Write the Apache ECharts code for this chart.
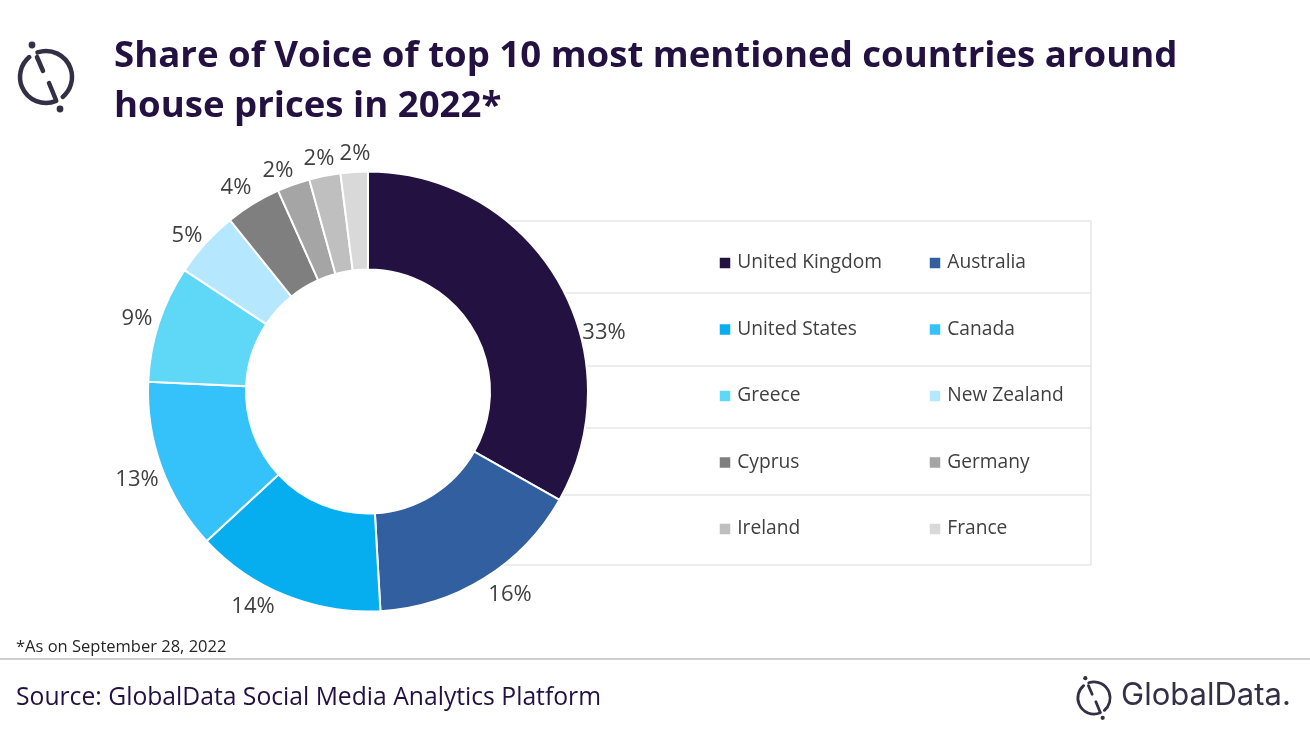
<!DOCTYPE html>
<html>
<head>
<meta charset="utf-8">
<title>Share of Voice</title>
<script src="https://cdn.jsdelivr.net/npm/echarts@6/dist/echarts.min.js"></script>
<style>
  html, body { margin: 0; padding: 0; background: #fff; }
  #chart { width: 1310px; height: 737px; }
</style>
</head>
<body>
<div id="chart"></div>
<script>
const countries = ['United Kingdom', 'Australia', 'United States', 'Canada', 'Greece', 'New Zealand', 'Cyprus', 'Germany', 'Ireland', 'France'];
const shares = [33.2, 15.9, 14, 12.6, 8.6, 4.9, 4.1, 2.4, 2.3, 2];
const colors = ['#231142', '#315f9f', '#06aeef', '#35c2fb', '#5fd8f7', '#b5e8ff', '#7f7f7f', '#a5a5a5', '#bfbfbf', '#d9d9d9'];
// where each percent label sits
const labelSpots = [[604, 333], [510, 595], [253, 607], [137, 480], [137, 319], [187, 236], [236, 188], [278, 171], [319, 159], [355, 154]];
const tableRows = [221, 293, 366, 428, 495, 565];

const FONT = '"Open Sans", sans-serif';
const INK = '#231142';
const LOGO = '#332f45';

// circle logo, used top left and bottom right
function logo(cx, cy, s) {
    const line = (x1, y1, x2, y2) => ({
        type: 'line',
        shape: { x1: cx + x1 * s, y1: cy + y1 * s, x2: cx + x2 * s, y2: cy + y2 * s },
        style: { stroke: LOGO, lineWidth: 4.5 * s, lineCap: 'round' }
    });
    const arc = (a, b) => ({
        type: 'arc',
        shape: { cx: cx, cy: cy, r: 26 * s, startAngle: a * Math.PI / 180, endAngle: b * Math.PI / 180 },
        style: { stroke: LOGO, fill: 'none', lineWidth: 4.5 * s, lineCap: 'round' }
    });
    const dot = (x, y) => ({
        type: 'circle',
        shape: { cx: cx + x * s, cy: cy + y * s, r: 3.4 * s },
        style: { fill: LOGO }
    });
    return [
        arc(-109, 50), arc(67, 230),
        line(-9, -20, -3, -6), line(3, 6, 10, 23),
        dot(-14, -32), dot(14, 32)
    ];
}

// the legend draws its square at 80% of itemHeight
function legendColumn(left, names) {
    return {
        left: left, top: 253, padding: 0, orient: 'vertical', icon: 'rect',
        itemWidth: 12.5, itemHeight: 12.5, itemGap: 46.5,
        data: names,
        textStyle: { fontFamily: FONT, fontSize: 19.2, lineHeight: 20, color: '#404040', padding: [0, 0, 0, 1] }
    };
}

const chart = echarts.init(document.getElementById('chart'));
chart.setOption({
    animation: false,
    backgroundColor: '#fff',
    legend: [
        legendColumn(717.75, countries.filter((c, i) => i % 2 === 0)),
        legendColumn(927.75, countries.filter((c, i) => i % 2 === 1))
    ],
    series: [{
        type: 'pie',
        center: [368, 391.5],
        radius: [122, 220],
        startAngle: 90,
        clockwise: true,
        z: 5,
        itemStyle: { borderColor: '#fff', borderWidth: 2 },
        label: {
            show: true,
            position: 'outside',
            fontFamily: FONT,
            fontSize: 22,
            color: '#404040',
            formatter: (p) => Math.round(p.value) + '%'
        },
        labelLine: { show: false },
        labelLayout: (p) => ({
            x: labelSpots[p.dataIndex][0],
            y: labelSpots[p.dataIndex][1],
            align: 'center',
            verticalAlign: 'middle'
        }),
        emphasis: { disabled: true },
        data: countries.map((name, i) => ({ name: name, value: shares[i], itemStyle: { color: colors[i] } }))
    }],
    graphic: {
        elements: [
            {
                type: 'text', left: 114, top: 32, z: 10,
                style: { text: 'Share of Voice of top 10 most mentioned countries around\nhouse prices in 2022*', fontFamily: FONT, fontWeight: 'bold', fontSize: 36.6, lineHeight: 50, fill: INK }
            },
            {
                type: 'text', left: 16, top: 639, z: 10,
                style: { text: '*As on September 28, 2022', fontFamily: FONT, fontSize: 16.5, fill: '#262626' }
            },
            {
                type: 'text', left: 16, top: 685, z: 10,
                style: { text: 'Source: GlobalData Social Media Analytics Platform', fontFamily: FONT, fontSize: 24.7, fill: INK }
            },
            {
                type: 'text', left: 1121, top: 680, z: 10,
                style: { text: 'GlobalData.', fontFamily: 'Inter, sans-serif', fontSize: 31, fill: LOGO }
            },
            {
                type: 'line', z: 1,
                shape: { x1: 0, y1: 659, x2: 1310, y2: 659 },
                style: { stroke: '#bdbdbd', lineWidth: 1.5 }
            },
            ...tableRows.map((y) => ({
                type: 'line', z: 1,
                shape: { x1: 500, y1: y, x2: 1091, y2: y },
                style: { stroke: '#e6e6e6', lineWidth: 1.5 }
            })),
            {
                type: 'line', z: 1,
                shape: { x1: 1091, y1: tableRows[0], x2: 1091, y2: tableRows[5] },
                style: { stroke: '#e6e6e6', lineWidth: 1.5 }
            },
            ...logo(46, 77, 1),
            ...logo(1094, 698, 0.62)
        ]
    }
});
</script>
</body>
</html>
